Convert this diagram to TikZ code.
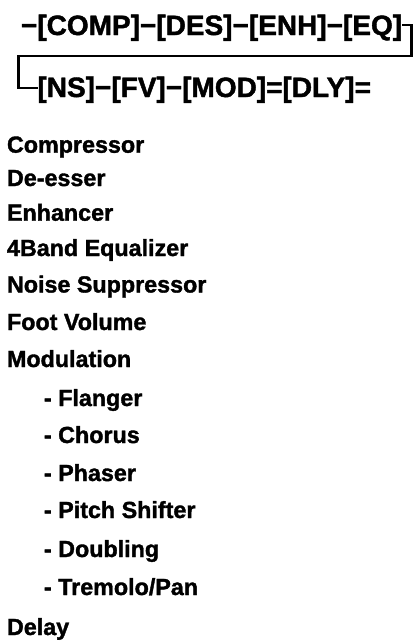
\documentclass[tikz,border=0pt]{standalone}
\usepackage{fontspec}
\setmainfont{Liberation Sans}[BoldFeatures={FakeBold=1.5}]
\begin{document}
\begin{tikzpicture}[x=1pt,y=-1pt,
  row/.style={anchor=base west,inner sep=0pt,outer sep=0pt,font=\fontsize{28}{30}\selectfont\bfseries},
  item/.style={anchor=base west,inner sep=0pt,outer sep=0pt,font=\fontsize{23.3}{26}\selectfont\bfseries},
  wire/.style={line width=2.6pt,line join=miter,line cap=butt}]
\useasboundingbox[fill=white] (0,0) rectangle (417,643);
\node[row] (row1) at (21,35) {−[COMP]−[DES]−[ENH]−[EQ]};
\node[row] (row2) at (37.5,97) {[NS]−[FV]−[MOD]=[DLY]=};
\coordinate (tr) at (411.7,25);
\coordinate (mid) at (18.7,56);
\coordinate (bl) at (18.7,88);
\draw[wire] (row1.east |- tr) -- (tr) |- (mid) -- (bl) -- (row2.west |- bl);
\node[item] (i1) at (7,152.7) {Compressor};
\node[item] (i2) at (7,186) {De-esser};
\node[item] (i3) at (7,220.7) {Enhancer};
\node[item] (i4) at (7,256) {4Band Equalizer};
\node[item] (i5) at (7,292.5) {Noise Suppressor};
\node[item] (i6) at (7,330) {Foot Volume};
\node[item] (i7) at (7,367) {Modulation};
\node[item] (s1) at (44,406) {- Flanger};
\node[item] (s2) at (44,443) {- Chorus};
\node[item] (s3) at (44,481) {- Phaser};
\node[item] (s4) at (44,518) {- Pitch Shifter};
\node[item] (s5) at (44,557) {- Doubling};
\node[item] (s6) at (44,595) {- Tremolo/Pan};
\node[item] (i8) at (7,635) {Delay};
\end{tikzpicture}
\end{document}
